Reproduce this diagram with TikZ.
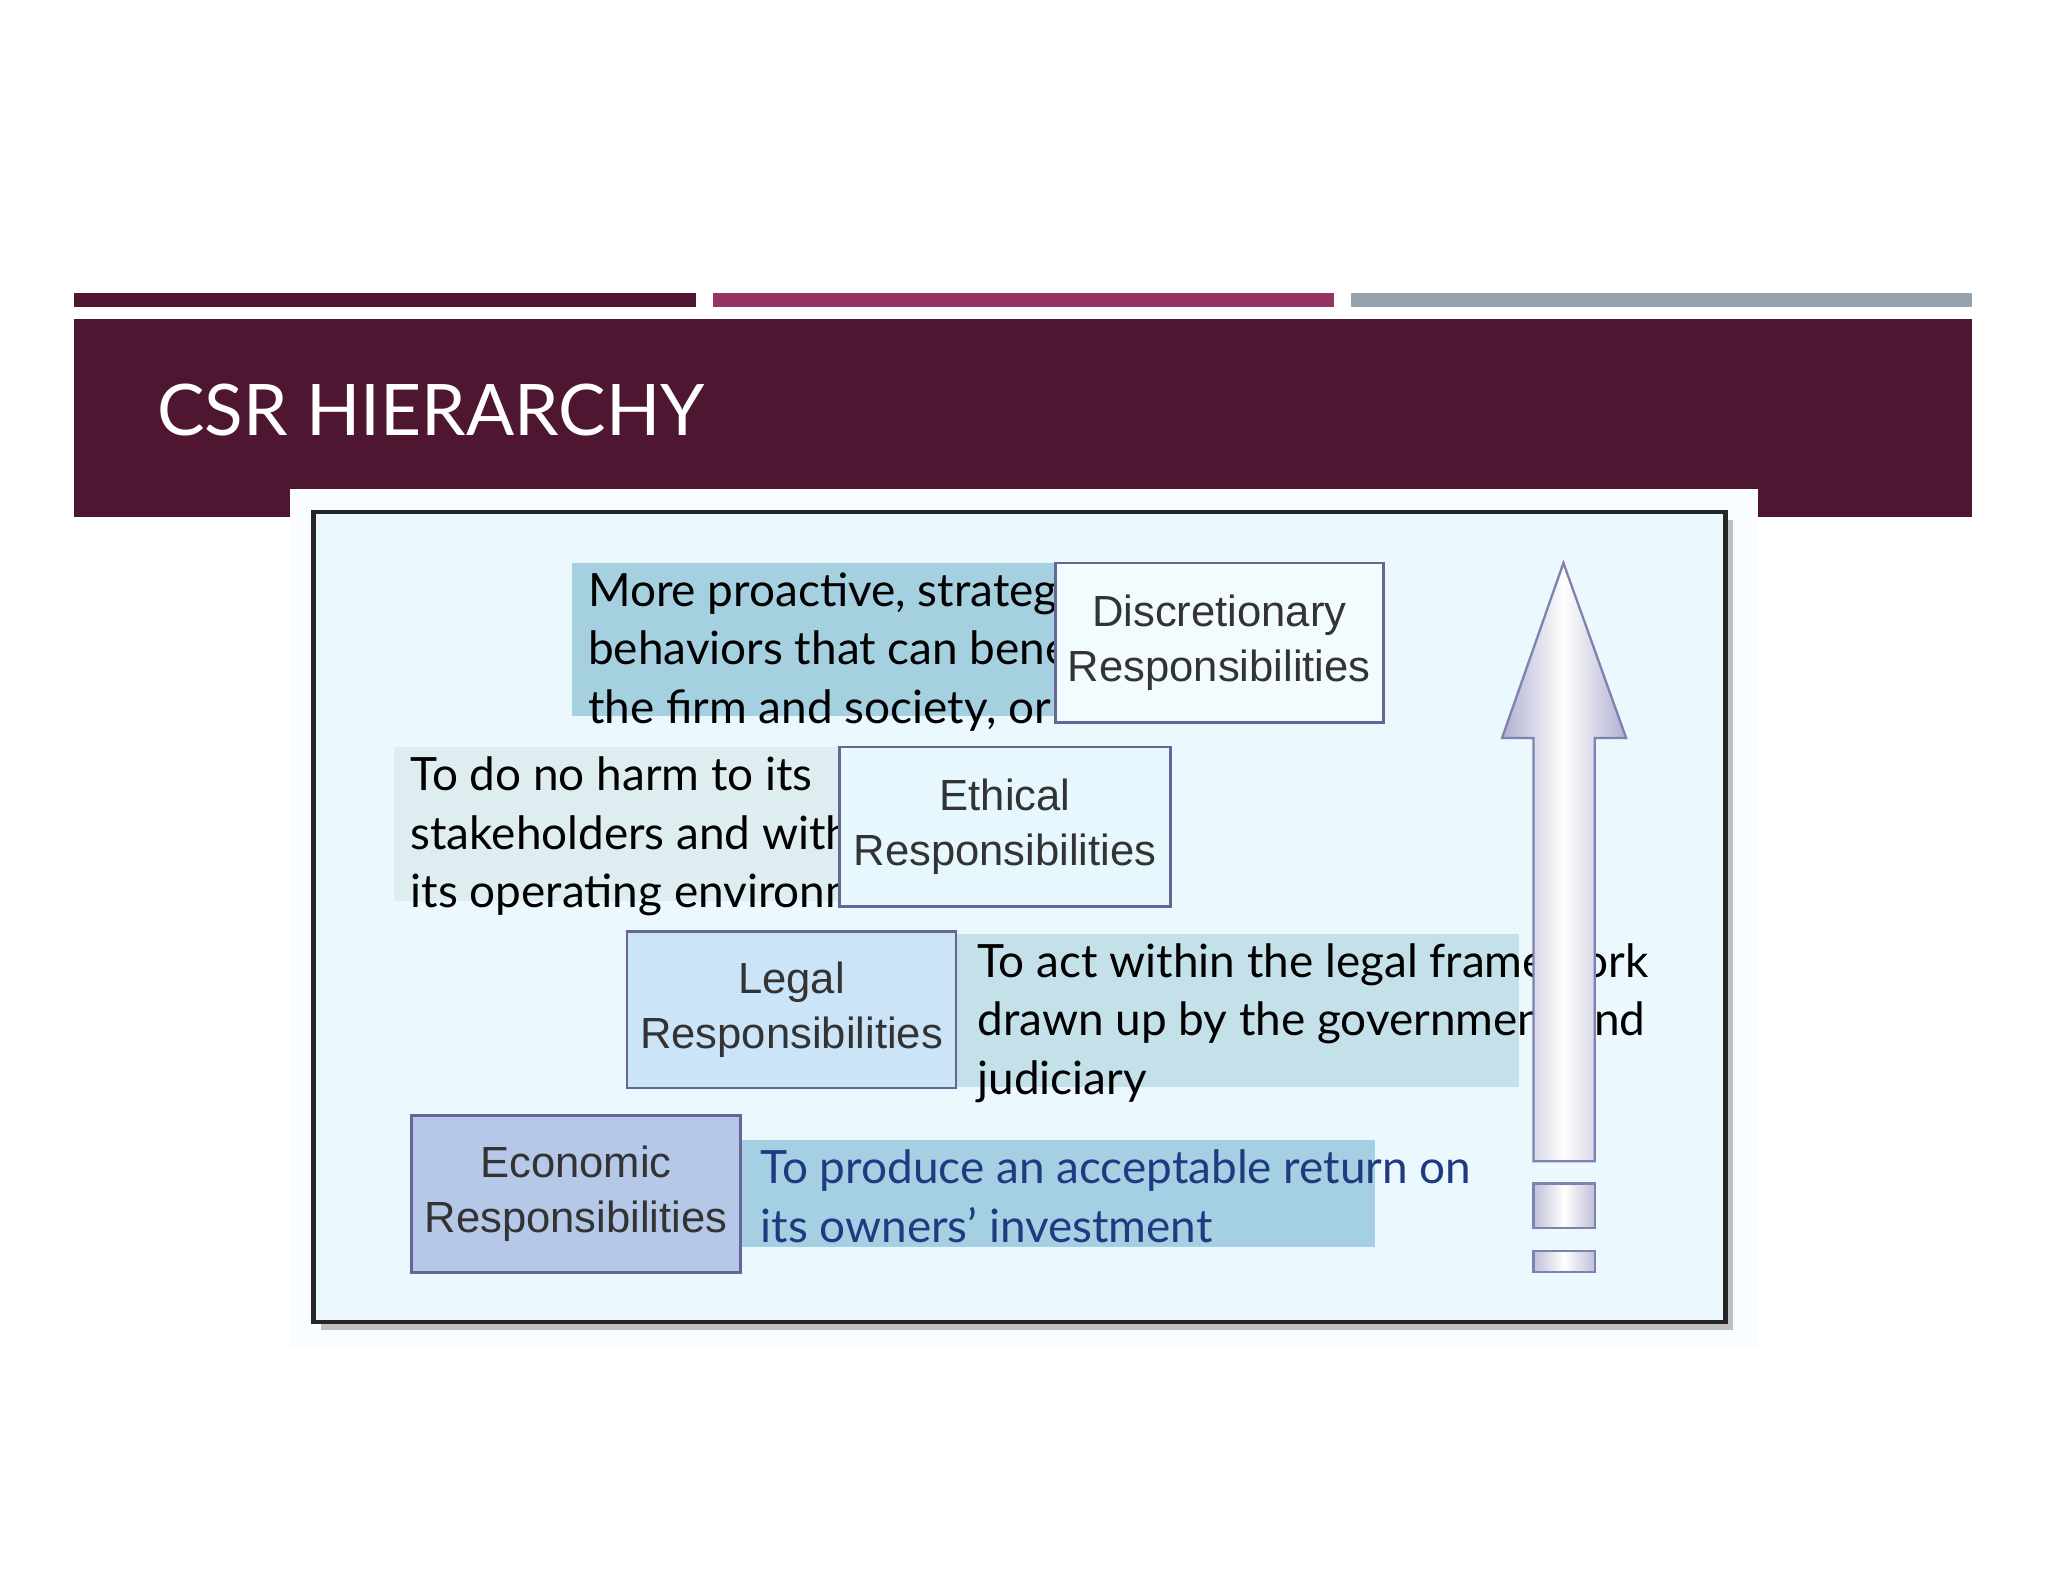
\documentclass[tikz,border=0pt]{standalone}
\usepackage{fontspec}
\setmainfont{Lato}
\newfontfamily\boxfont{Liberation Sans}
\begin{document}
\begin{tikzpicture}[x=0.02cm,y=-0.02cm,
  resp/.style={draw=black!70!blue!60, line width=1.2pt, inner sep=0pt, align=center, font=\boxfont\fontsize{19}{24}\selectfont, text=black!80},
  desc/.style={inner sep=0pt, anchor=north west, align=left, font=\fontsize{20}{25.5}\selectfont}]
\useasboundingbox (0,0) rectangle (1568,1211);
\fill[white] (0,0) rectangle (1568,1211);
\fill[black!70!red!60!blue!30] (57,224) rectangle (533,235);
\definecolor{barA}{HTML}{4F1632}\definecolor{barB}{HTML}{943465}\definecolor{barC}{HTML}{95A3AE}
\fill[barA] (57,224) rectangle (533,235);
\fill[barB] (546,224) rectangle (1021,235);
\fill[barC] (1034,224) rectangle (1510,235);
\fill[barA] (57,244) rectangle (1510,396);
\node[anchor=west, text=white, inner sep=0pt, font=\fontsize{31}{36}\selectfont] (title) at (120,314) {CSR HIERARCHY};
\fill[cyan!2] (222,374) rectangle (1346,1032);
\fill[black!25] (246,398) rectangle (1327,1018);
\fill[cyan!8, draw=black!85, line width=2pt] (240,392) rectangle (1321,1012);
% text backgrounds
\definecolor{tA}{HTML}{A5D0E0}\definecolor{tB}{HTML}{DDEDF0}\definecolor{tC}{HTML}{C4E1EA}\definecolor{tD}{HTML}{A5D0E3}
\fill[tA] (438,431) rectangle (808,548);
\fill[tB] (302,572) rectangle (643,690);
\fill[tC] (732,715) rectangle (1163,832);
\fill[tD] (567,873) rectangle (1053,955);
\node[desc] (dA) at (450,438) {More proactive, strategic\\behaviors that can benefit\\the firm and society, or both};
\node[desc] (dB) at (314,579) {To do no harm to its\\stakeholders and within\\its operating environment};
\node[desc] (dC) at (748,722) {To act within the legal framework\\drawn up by the government and\\judiciary};
\node[desc, text={rgb,255:red,31;green,58;blue,128}] (dD) at (582,880) {To produce an acceptable return on\\its owners' investment};
% boxes
\node[resp, fill=cyan!5, minimum width=251*0.02cm, minimum height=122*0.02cm] (disc) at (933.5,492) {Discretionary\\Responsibilities};
\node[resp, fill=cyan!10, minimum width=253*0.02cm, minimum height=122*0.02cm] (eth) at (769.5,633) {Ethical\\Responsibilities};
\node[resp, fill={rgb,255:red,204;green,228;blue,248}, minimum width=252*0.02cm, minimum height=120*0.02cm] (leg) at (606,773) {Legal\\Responsibilities};
\node[resp, fill={rgb,255:red,181;green,200;blue,232}, minimum width=252*0.02cm, minimum height=120*0.02cm] (eco) at (441,914) {Economic\\Responsibilities};
% arrow
\shade[left color=blue!25!gray!50, right color=blue!25!gray!50, middle color=white, draw=black!60!blue!50, line width=1pt]
  (1197,431) -- (1245,565) -- (1221,565) -- (1221,889) -- (1174,889) -- (1174,565) -- (1150,565) -- cycle;
\shade[left color=blue!25!gray!40, right color=blue!25!gray!40, middle color=white, draw=black!60!blue!50, line width=1pt] (1174,906) rectangle (1221,940);
\shade[left color=blue!25!gray!40, right color=blue!25!gray!40, middle color=white, draw=black!60!blue!50, line width=1pt] (1174,958) rectangle (1221,974);
\end{tikzpicture}
\end{document}
